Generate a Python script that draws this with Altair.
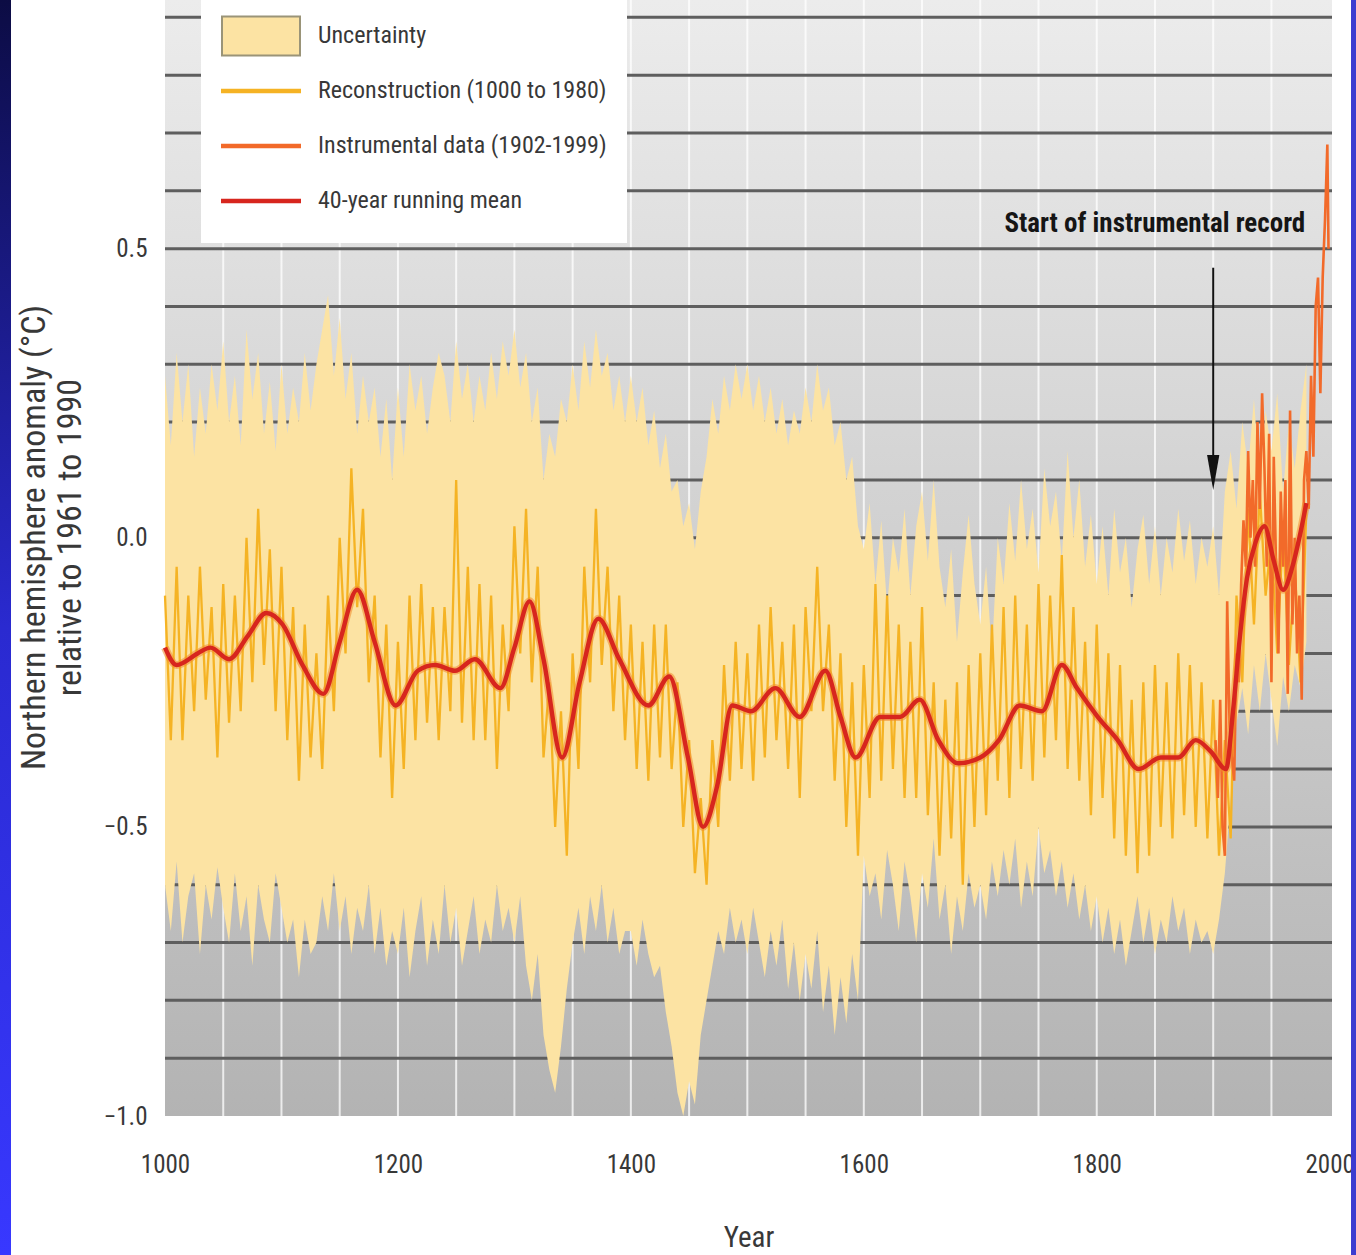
import altair as alt
import pandas as pd

# ---------------- data ----------------
YEARS5 = list(range(1000, 1981, 5))
RECON = [-0.10, -0.35, -0.05, -0.35, -0.10, -0.30, -0.05, -0.28, -0.12, -0.38,
    -0.08, -0.32, -0.10, -0.30, 0.00, -0.25, 0.05, -0.22, -0.02, -0.30,
    -0.05, -0.35, -0.12, -0.42, -0.15, -0.38, -0.20, -0.40, -0.10, -0.30,
    0.00, -0.20, 0.12, -0.12, 0.05, -0.25, -0.10, -0.38, -0.15, -0.45,
    -0.18, -0.40, -0.10, -0.35, -0.08, -0.32, -0.12, -0.35, -0.12, -0.30,
    0.10, -0.32, -0.05, -0.35, -0.08, -0.35, -0.10, -0.40, -0.15, -0.30,
    0.02, -0.20, 0.05, -0.25, -0.05, -0.38, -0.25, -0.50, -0.30, -0.55,
    -0.20, -0.40, -0.05, -0.25, 0.05, -0.22, -0.05, -0.30, -0.10, -0.35,
    -0.15, -0.40, -0.18, -0.42, -0.15, -0.38, -0.15, -0.40, -0.25, -0.50,
    -0.35, -0.58, -0.45, -0.60, -0.35, -0.50, -0.22, -0.42, -0.18, -0.40,
    -0.20, -0.42, -0.15, -0.38, -0.12, -0.35, -0.18, -0.40, -0.15, -0.45,
    -0.12, -0.30, -0.05, -0.30, -0.15, -0.42, -0.20, -0.50, -0.25, -0.55,
    -0.22, -0.45, -0.08, -0.42, -0.10, -0.40, -0.15, -0.45, -0.18, -0.45,
    -0.12, -0.48, -0.25, -0.55, -0.28, -0.52, -0.25, -0.60, -0.22, -0.50,
    -0.20, -0.48, -0.15, -0.42, -0.12, -0.45, -0.10, -0.40, -0.15, -0.42,
    -0.08, -0.38, -0.10, -0.35, -0.03, -0.40, -0.12, -0.42, -0.18, -0.48,
    -0.15, -0.45, -0.20, -0.52, -0.22, -0.55, -0.28, -0.58, -0.25, -0.55,
    -0.22, -0.50, -0.25, -0.52, -0.20, -0.48, -0.22, -0.50, -0.25, -0.52,
    -0.28, -0.55, -0.35, -0.52, -0.10, -0.25, 0.05, -0.15, 0.08, -0.10,
    0.00, -0.20, 0.02, -0.22, -0.05, -0.25, 0.05]
UNC_UPPER = [0.28, 0.16, 0.32, 0.20, 0.30, 0.14, 0.26, 0.18, 0.30, 0.22,
    0.34, 0.20, 0.28, 0.16, 0.36, 0.24, 0.32, 0.18, 0.27, 0.15,
    0.30, 0.18, 0.26, 0.20, 0.32, 0.22, 0.30, 0.36, 0.42, 0.28,
    0.38, 0.24, 0.32, 0.18, 0.28, 0.20, 0.26, 0.14, 0.24, 0.10,
    0.26, 0.14, 0.30, 0.22, 0.28, 0.18, 0.26, 0.32, 0.28, 0.20,
    0.34, 0.24, 0.30, 0.20, 0.28, 0.22, 0.32, 0.24, 0.34, 0.28,
    0.36, 0.26, 0.32, 0.20, 0.26, 0.10, 0.18, 0.14, 0.24, 0.20,
    0.30, 0.22, 0.34, 0.26, 0.36, 0.28, 0.32, 0.22, 0.28, 0.20,
    0.28, 0.20, 0.26, 0.16, 0.22, 0.12, 0.18, 0.08, 0.10, 0.02,
    0.06, -0.02, 0.08, 0.14, 0.24, 0.18, 0.28, 0.22, 0.30, 0.24,
    0.30, 0.22, 0.28, 0.20, 0.26, 0.18, 0.24, 0.16, 0.22, 0.18,
    0.26, 0.20, 0.30, 0.22, 0.26, 0.16, 0.20, 0.10, 0.14, 0.02,
    -0.02, 0.06, -0.08, 0.03, -0.12, 0.00, -0.06, 0.05, -0.10, 0.02,
    0.08, -0.04, 0.10, -0.05, -0.12, -0.02, -0.18, -0.06, 0.04, -0.08,
    -0.15, -0.05, -0.20, 0.00, -0.08, 0.06, -0.04, 0.10, -0.02, 0.05,
    -0.06, 0.12, 0.02, 0.08, -0.04, 0.15, 0.00, 0.10, -0.05, 0.04,
    -0.08, 0.02, -0.10, 0.05, -0.06, 0.00, -0.12, -0.02, 0.04, -0.08,
    0.02, -0.10, 0.00, -0.06, 0.05, -0.04, 0.03, -0.08, 0.00, -0.05,
    0.02, -0.10, 0.08, 0.15, 0.05, 0.20, 0.12, 0.24, 0.10, 0.22,
    0.15, 0.25, 0.08, 0.20, 0.12, 0.22, 0.30]
UNC_LOWER = [-0.60, -0.68, -0.56, -0.70, -0.62, -0.58, -0.72, -0.60, -0.66, -0.57,
    -0.64, -0.70, -0.58, -0.68, -0.62, -0.74, -0.60, -0.66, -0.70, -0.58,
    -0.64, -0.70, -0.66, -0.76, -0.66, -0.72, -0.70, -0.62, -0.68, -0.58,
    -0.68, -0.62, -0.72, -0.64, -0.68, -0.60, -0.72, -0.64, -0.74, -0.68,
    -0.72, -0.64, -0.76, -0.68, -0.62, -0.74, -0.66, -0.72, -0.60, -0.70,
    -0.64, -0.74, -0.68, -0.62, -0.72, -0.66, -0.70, -0.60, -0.68, -0.64,
    -0.70, -0.62, -0.74, -0.80, -0.72, -0.86, -0.92, -0.96, -0.88, -0.78,
    -0.70, -0.64, -0.72, -0.62, -0.68, -0.60, -0.70, -0.64, -0.72, -0.68,
    -0.68, -0.74, -0.66, -0.72, -0.76, -0.74, -0.82, -0.88, -0.96, -1.00,
    -0.94, -0.98, -0.86, -0.80, -0.74, -0.68, -0.72, -0.64, -0.70, -0.66,
    -0.72, -0.64, -0.70, -0.76, -0.68, -0.74, -0.66, -0.78, -0.70, -0.80,
    -0.72, -0.78, -0.68, -0.82, -0.74, -0.86, -0.76, -0.84, -0.72, -0.80,
    -0.55, -0.62, -0.58, -0.66, -0.54, -0.60, -0.68, -0.56, -0.62, -0.70,
    -0.58, -0.64, -0.52, -0.66, -0.60, -0.72, -0.62, -0.68, -0.58, -0.64,
    -0.60, -0.66, -0.56, -0.62, -0.54, -0.60, -0.52, -0.64, -0.56, -0.62,
    -0.50, -0.58, -0.54, -0.62, -0.56, -0.64, -0.58, -0.66, -0.60, -0.68,
    -0.62, -0.70, -0.64, -0.72, -0.66, -0.74, -0.68, -0.62, -0.70, -0.64,
    -0.72, -0.66, -0.70, -0.62, -0.68, -0.64, -0.72, -0.66, -0.70, -0.68,
    -0.72, -0.66, -0.58, -0.45, -0.32, -0.26, -0.34, -0.22, -0.30, -0.20,
    -0.28, -0.36, -0.24, -0.30, -0.22, -0.26, -0.18]
INSTR_YEARS = [1902, 1904, 1906, 1908, 1910, 1912, 1914, 1916, 1918, 1920,
    1922, 1924, 1926, 1928, 1930, 1932, 1934, 1936, 1938, 1940,
    1942, 1944, 1946, 1948, 1950, 1952, 1954, 1956, 1958, 1960,
    1962, 1964, 1966, 1968, 1970, 1972, 1974, 1976, 1978, 1980,
    1982, 1984, 1986, 1988, 1990, 1992, 1994, 1996, 1998, 1999]
INSTR_VALS = [-0.35, -0.45, -0.28, -0.50, -0.55, -0.11, -0.32, -0.38, -0.42, -0.20,
    -0.25, -0.08, 0.03, -0.05, 0.15, 0.00, 0.10, -0.05, 0.20, 0.05,
    0.25, 0.12, -0.05, 0.18, -0.25, 0.14, -0.05, -0.20, 0.08, -0.05,
    0.10, -0.27, 0.22, -0.15, 0.00, -0.20, -0.10, -0.28, 0.10, 0.15,
    0.05, 0.28, 0.14, 0.40, 0.45, 0.25, 0.45, 0.55, 0.68, 0.50]
MEAN_YEARS = [1000, 1010, 1028, 1039, 1055, 1071, 1087, 1101, 1118, 1136,
    1150, 1165, 1180, 1198, 1217, 1232, 1249, 1266, 1288, 1300,
    1313, 1325, 1341, 1356, 1372, 1390, 1415, 1433, 1449, 1462,
    1474, 1487, 1503, 1524, 1545, 1567, 1580, 1593, 1614, 1631,
    1648, 1664, 1681, 1700, 1716, 1734, 1753, 1770, 1783, 1801,
    1818, 1836, 1855, 1870, 1885, 1898, 1911, 1917, 1923, 1929,
    1936, 1944, 1952, 1960, 1968, 1974, 1980]
MEAN_VALS = [-0.19, -0.22, -0.20, -0.19, -0.21, -0.17, -0.13, -0.15, -0.22, -0.27,
    -0.18, -0.09, -0.18, -0.29, -0.23, -0.22, -0.23, -0.21, -0.26, -0.19,
    -0.11, -0.21, -0.38, -0.25, -0.14, -0.21, -0.29, -0.24, -0.38, -0.50,
    -0.43, -0.29, -0.30, -0.26, -0.31, -0.23, -0.31, -0.38, -0.31, -0.31,
    -0.28, -0.35, -0.39, -0.38, -0.35, -0.29, -0.30, -0.22, -0.26, -0.31,
    -0.35, -0.40, -0.38, -0.38, -0.35, -0.37, -0.40, -0.30, -0.17, -0.07,
    -0.01, 0.02, -0.04, -0.09, -0.05, 0.00, 0.06]

H_GRID = [-0.9, -0.8, -0.7, -0.6, -0.5, -0.4, -0.3, -0.2, -0.1, 0.0,
          0.1, 0.2, 0.3, 0.4, 0.5, 0.6, 0.7, 0.8, 0.9]
V_GRID = [1050, 1100, 1150, 1200, 1250, 1300, 1350, 1400, 1450, 1500,
          1550, 1600, 1650, 1700, 1750, 1800, 1850, 1900, 1950]
X_TICKS = [1000, 1200, 1400, 1600, 1800, 2000]
Y_TICKS = [-1.0, -0.5, 0.0, 0.5]

SERIES = ["Uncertainty", "Reconstruction (1000 to 1980)",
          "Instrumental data (1902-1999)", "40-year running mean"]
FILLS = ["#fce3a3", "#f5b324", "#f26a2a", "#d7261e"]
STROKES = ["#9a9478", "#f5b324", "#f26a2a", "#d7261e"]

ANNOT_TEXT = ["Start of instrumental record"]
ANNOT_X = [1979]
ANNOT_Y = [0.542]
ARROW_X = [1900]
ARROW_TOP = [0.467]
ARROW_BOTTOM = [0.14]
ARROW_HEAD = [0.113]

# ---------------- chart ----------------
FONT = "Roboto Condensed"
TXT = "#383838"

W, H = 1167, 1116
xs = alt.Scale(domain=[1000, 2002], nice=False, zero=False)
ys = alt.Scale(domain=[-1.0, 0.93], nice=False, zero=False)
fill_scale = alt.Scale(domain=SERIES, range=FILLS)
stroke_scale = alt.Scale(domain=SERIES, range=STROKES)
RECT_PATH = "M-1,-0.5L1,-0.5L1,0.5L-1,0.5Z"
LINE_PATH = "M-1,-0.035L1,-0.035L1,0.035L-1,0.035Z"
shape_scale = alt.Scale(domain=SERIES, range=[RECT_PATH, LINE_PATH, LINE_PATH, LINE_PATH])

df = pd.DataFrame({"year": YEARS5, "recon": RECON, "upper": UNC_UPPER, "lower": UNC_LOWER})
df["s_unc"] = SERIES[0]
df["s_rec"] = SERIES[1]
instr = pd.DataFrame({"year": INSTR_YEARS, "val": INSTR_VALS, "s": SERIES[2]})
mean = pd.DataFrame({"year": MEAN_YEARS, "val": MEAN_VALS, "s": SERIES[3]})
hgrid = pd.DataFrame({"v": H_GRID})
vgrid = pd.DataFrame({"v": V_GRID})
annot = pd.DataFrame({"x": ANNOT_X, "y": ANNOT_Y, "t": ANNOT_TEXT})
arrow = pd.DataFrame({"x": ARROW_X, "y1": ARROW_TOP, "y2": ARROW_BOTTOM, "yh": ARROW_HEAD})
one = pd.DataFrame({"k": [0]})
legend_df = pd.DataFrame({"series": SERIES})

x_axis = alt.Axis(values=X_TICKS, format="d", title="Year", labelPadding=36,
                  labelFlush=False, labelFontSize=25,
                  titleY=121, titleBaseline="middle", titleFontSize=29)
y_axis = alt.Axis(values=Y_TICKS, format=".1f",
                  title=["Northern hemisphere anomaly (°C)", "relative to 1961 to 1990"],
                  labelPadding=18, labelFontSize=25, titleFontSize=34, titleX=-148,
                  titleY=537, titleAlign="center", titleBaseline="top", titleAngle=270,
                  titleLineHeight=36)

X = lambda f: alt.X(f, scale=xs)
Y = lambda f: alt.Y(f, scale=ys)

bg_grad = alt.LinearGradient(gradient="linear", x1=0, x2=0, y1=0, y2=1,
                             stops=[alt.GradientStop(color="#ececec", offset=0),
                                    alt.GradientStop(color="#b3b3b3", offset=1)])
blue_grad = alt.LinearGradient(gradient="linear", x1=0, x2=0, y1=0, y2=1,
                               stops=[alt.GradientStop(color="#0c0c44", offset=0),
                                      alt.GradientStop(color="#2a2ad0", offset=0.5),
                                      alt.GradientStop(color="#3838ff", offset=1)])

bg = alt.Chart(one).mark_rect(color=bg_grad).encode(
    x=alt.value(0), x2=alt.value("width"), y=alt.value(0), y2=alt.value("height"))
left_strip = alt.Chart(one).mark_rect(color=blue_grad).encode(
    x=alt.value(-165), x2=alt.value(-154), y=alt.value(0), y2=alt.value(1255))
right_strip = alt.Chart(one).mark_rect(color="#3c3cd0").encode(
    x=alt.value(1186), x2=alt.value(1191), y=alt.value(0), y2=alt.value(1255))

vlines = alt.Chart(vgrid).mark_rule(color="#ffffff", strokeWidth=2, opacity=0.75).encode(
    x=X("v:Q"))
hlines = alt.Chart(hgrid).mark_rule(color="#5e5e5e", strokeWidth=3).encode(
    y=Y("v:Q"))

band = alt.Chart(df).mark_area(opacity=1).encode(
    x=alt.X("year:Q", scale=xs, axis=x_axis),
    y=alt.Y("upper:Q", scale=ys, axis=y_axis),
    y2="lower:Q",
    fill=alt.Fill("s_unc:N", scale=fill_scale))
recon = alt.Chart(df).mark_line(strokeWidth=2.3).encode(
    x=X("year:Q"), y=Y("recon:Q"),
    stroke=alt.Stroke("s_rec:N", scale=stroke_scale))
instr_line = alt.Chart(instr).mark_line(strokeWidth=2.6).encode(
    x=X("year:Q"), y=Y("val:Q"),
    stroke=alt.Stroke("s:N", scale=stroke_scale))
mean_halo = alt.Chart(mean).mark_line(color="#f08a2c", strokeWidth=8, opacity=0.55,
                                      interpolate="monotone").encode(
    x=X("year:Q"), y=Y("val:Q"))
mean_line = alt.Chart(mean).mark_line(strokeWidth=4.4, interpolate="monotone").encode(
    x=X("year:Q"), y=Y("val:Q"),
    stroke=alt.Stroke("s:N", scale=stroke_scale))

arrow_rule = alt.Chart(arrow).mark_rule(color="#111111", strokeWidth=2).encode(
    x=X("x:Q"), y=Y("y1:Q"), y2="y2:Q")
arrow_head = alt.Chart(arrow).mark_point(shape="M-0.35,-1L0.35,-1L0,1Z", filled=True,
                                         color="#111111", size=1225, opacity=1).encode(
    x=X("x:Q"), y=Y("yh:Q"))
annot_text = alt.Chart(annot).mark_text(align="right", baseline="middle", font=FONT,
                                        fontSize=27, fontWeight="bold", color="#151515").encode(
    x=X("x:Q"), y=Y("y:Q"), text="t:N")

leg = alt.Legend(title=None, orient="none", legendX=36, legendY=-6, fillColor="#ffffff",
                 padding=20, clipHeight=44, rowPadding=11, symbolSize=6084,
                 symbolStrokeWidth=2, symbolOpacity=1, labelFont=FONT, labelFontSize=24,
                 labelColor=TXT, labelOffset=17, labelLimit=800)
legend_layer = alt.Chart(legend_df).mark_point(filled=True, opacity=1).encode(
    x=alt.value(-3000), y=alt.value(-3000),
    shape=alt.Shape("series:N", scale=shape_scale, legend=leg),
    fill=alt.Fill("series:N", scale=fill_scale, legend=leg),
    stroke=alt.Stroke("series:N", scale=stroke_scale, legend=leg))

chart = alt.layer(
    bg, left_strip, right_strip, vlines, hlines, band, recon, instr_line,
    mean_halo, mean_line, arrow_rule, arrow_head, annot_text, legend_layer
).properties(
    width=W, height=H, autosize=alt.AutoSizeParams(type="none"),
    padding={"left": 165, "top": 0, "right": 24, "bottom": 139},
    background="#ffffff"
).configure_view(stroke=None).configure_axis(
    grid=False, domain=False, ticks=False, labelFont=FONT, labelFontSize=24,
    labelColor=TXT, titleFont=FONT, titleColor=TXT, titleFontWeight="normal"
)

chart.save("out.html", embed_options={"renderer": "svg", "actions": False})
